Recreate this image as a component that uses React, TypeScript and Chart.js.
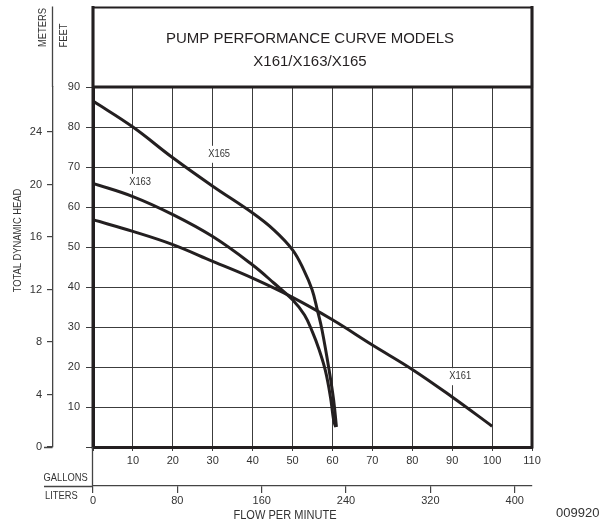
import React, { useEffect, useRef } from "react";
import { Chart, registerables } from "chart.js";

Chart.register(...registerables);

// ---- data (gallons per minute vs total dynamic head in feet) ----
const X165_GAL = [0, 10, 20, 30, 40, 45.3, 50, 52.8, 54.9, 56.2, 57.4, 59.3, 60.3, 61];
const X165_FT = [86.5, 80, 72.3, 65.2, 58.5, 54.3, 49.3, 44.3, 39.3, 34.3, 29.2, 18.4, 11.7, 5];
const X163_GAL = [0, 10, 20, 30, 40, 45.3, 50, 53, 55, 56.6, 58.2, 59.5, 60.3, 60.8];
const X163_FT = [65.9, 62.6, 58.1, 52.6, 45.5, 41.0, 36.8, 33.0, 28.7, 24.5, 19.2, 12.5, 6.7, 5];
const X161_GAL = [0, 10, 20, 30, 40, 50, 60, 70, 80, 90, 100];
const X161_FT = [56.8, 53.9, 50.6, 46.4, 42.2, 37.4, 31.8, 25.5, 19.4, 12.5, 5.2];

const SERIES_NAMES = ["X165", "X163", "X161"];
const LABEL_GAL = [31.6, 11.8, 92];
const LABEL_FT = [73.3, 66.3, 17.7];

const GALLON_MAX = 110;
const FEET_MAX = 90;
const GALLON_STEP = 10;
const FEET_STEP = 10;
const METER_STEP = 4;
const LITER_STEP = 80;
const LITERS_PER_GALLON = 3.785411784;
const METERS_PER_FOOT = 0.3048;

const TITLE_LINES = ["PUMP PERFORMANCE CURVE MODELS", "X161/X163/X165"];
const Y_TITLE = "TOTAL DYNAMIC HEAD";
const X_TITLE = "FLOW PER MINUTE";
const UNIT_METERS = "METERS";
const UNIT_FEET = "FEET";
const UNIT_GALLONS = "GALLONS";
const UNIT_LITERS = "LITERS";
const DOC_ID = "009920";

const INK = "#231f20";
const TICK_INK = "#333333";
const GRID = "#3c3c3c";
const SANS = '"Liberation Sans", Arial, Helvetica, sans-serif';
const NARROW_X = 0.85;

const toPoints = (xs: number[], ys: number[]) => xs.map((x, i) => ({ x, y: ys[i] }));

function narrowText(
  ctx: CanvasRenderingContext2D,
  text: string,
  x: number,
  y: number,
  align: CanvasTextAlign,
  rotate = false
) {
  ctx.save();
  ctx.translate(x, y);
  if (rotate) ctx.rotate(-Math.PI / 2);
  ctx.scale(NARROW_X, 1);
  ctx.textAlign = align;
  ctx.textBaseline = "middle";
  ctx.fillText(text, 0, 0);
  ctx.restore();
}

const decorPlugin = {
  id: "decor",
  beforeDraw(chart: any) {
    const { ctx, width, height } = chart;
    ctx.save();
    ctx.fillStyle = "#ffffff";
    ctx.fillRect(0, 0, width, height);
    ctx.restore();
  },
  beforeDatasetsDraw(chart: any) {
    const { ctx } = chart;
    const sx = chart.scales.x;
    const sy = chart.scales.y;
    ctx.save();
    ctx.font = `11px ${SANS}`;
    SERIES_NAMES.forEach((name, i) => {
      const px = sx.getPixelForValue(LABEL_GAL[i]);
      const py = sy.getPixelForValue(LABEL_FT[i]);
      const w = ctx.measureText(name).width * NARROW_X + 4;
      ctx.fillStyle = "#ffffff";
      ctx.fillRect(px - w / 2, py - 8, w, 17);
      ctx.fillStyle = TICK_INK;
      narrowText(ctx, name, px, py, "center");
    });
    ctx.restore();
  },
  afterDraw(chart: any) {
    const { ctx, chartArea } = chart;
    const { left, right, top, bottom } = chartArea;
    const meters = chart.scales.yM;
    const liters = chart.scales.xL;
    const boxTop = 7.5;
    ctx.save();
    ctx.strokeStyle = INK;
    ctx.lineCap = "square";
    // title box
    ctx.lineWidth = 2.2;
    ctx.beginPath();
    ctx.moveTo(left, top);
    ctx.lineTo(left, boxTop);
    ctx.lineTo(right, boxTop);
    ctx.lineTo(right, top);
    ctx.stroke();
    // plot frame: top (90 ft), right side, left side
    ctx.lineWidth = 3;
    ctx.beginPath();
    ctx.moveTo(left, top);
    ctx.lineTo(right, top);
    ctx.moveTo(right, boxTop);
    ctx.lineTo(right, bottom);
    ctx.moveTo(left, boxTop);
    ctx.lineTo(left, bottom);
    ctx.stroke();
    // thin axis extensions
    ctx.strokeStyle = "#444444";
    ctx.lineWidth = 1.3;
    ctx.lineCap = "butt";
    ctx.beginPath();
    const mx = Math.round(meters.right) - 0.5;
    ctx.moveTo(mx, boxTop - 1);
    ctx.lineTo(mx, top);
    ctx.moveTo(44, Math.round(liters.top) + 0.5);
    ctx.lineTo(left, Math.round(liters.top) + 0.5);
    ctx.moveTo(44, bottom + 0.5);
    ctx.lineTo(mx, bottom + 0.5);
    ctx.moveTo(left - 0.5, bottom);
    ctx.lineTo(left - 0.5, liters.top);
    ctx.stroke();

    // title
    ctx.fillStyle = INK;
    ctx.font = `15px ${SANS}`;
    ctx.textAlign = "center";
    ctx.textBaseline = "middle";
    const cx = (left + right) / 2 - 2.5;
    ctx.fillText(TITLE_LINES[0], cx, 39);
    ctx.fillText(TITLE_LINES[1], cx, 61.5);

    // unit and axis labels
    ctx.fillStyle = TICK_INK;
    ctx.font = `11px ${SANS}`;
    narrowText(ctx, UNIT_GALLONS, 43.5, 478, "left");
    narrowText(ctx, UNIT_LITERS, 45, 496, "left");
    narrowText(ctx, UNIT_METERS, 43, 47, "left", true);
    narrowText(ctx, UNIT_FEET, 63.5, 47.5, "left", true);
    narrowText(ctx, Y_TITLE, 18, 240.5, "center", true);

    ctx.font = `13px ${SANS}`;
    narrowText(ctx, X_TITLE, 285, 515, "center");

    ctx.textAlign = "left";
    ctx.textBaseline = "middle";
    ctx.fillText(DOC_ID, 556, 513);
    ctx.restore();
  },
};

export default function App() {
  const ref = useRef<HTMLCanvasElement | null>(null);

  useEffect(() => {
    if (!ref.current) return;
    const lineStyle = {
      borderColor: INK,
      borderWidth: 3,
      pointRadius: 0,
      fill: false,
      tension: 0.4,
      borderCapStyle: "butt" as const,
      xAxisID: "x",
      yAxisID: "y",
    };
    const tickFont = { family: SANS, size: 11 };
    const chart = new Chart(ref.current, {
      type: "line",
      data: {
        datasets: [
          { label: SERIES_NAMES[0], data: toPoints(X165_GAL, X165_FT), ...lineStyle },
          { label: SERIES_NAMES[1], data: toPoints(X163_GAL, X163_FT), ...lineStyle },
          { label: SERIES_NAMES[2], data: toPoints(X161_GAL, X161_FT), ...lineStyle },
        ],
      },
      options: {
        animation: false,
        responsive: false,
        devicePixelRatio: 1,
        layout: { padding: { left: 0, right: 81, top: 87, bottom: 0 } },
        plugins: { legend: { display: false }, title: { display: false }, tooltip: { enabled: false } },
        events: [],
        scales: {
          x: {
            type: "linear",
            position: "bottom",
            weight: 0,
            min: 0,
            max: GALLON_MAX,
            ticks: {
              stepSize: GALLON_STEP,
              autoSkip: false,
              maxRotation: 0,
              padding: 3,
              color: TICK_INK,
              font: tickFont,
              callback: (v: any) => (Number(v) === 0 ? "" : String(v)),
            },
            grid: { color: GRID, lineWidth: 1, tickLength: 4 },
            border: { display: true, color: INK, width: 3 },
            afterFit: (s: any) => {
              s.height = 39;
            },
          },
          xL: {
            type: "linear",
            position: "bottom",
            weight: 1,
            min: 0,
            max: GALLON_MAX * LITERS_PER_GALLON,
            ticks: {
              stepSize: LITER_STEP,
              includeBounds: false,
              autoSkip: false,
              maxRotation: 0,
              padding: 1,
              color: TICK_INK,
              font: tickFont,
            },
            grid: { drawOnChartArea: false, color: "#444444", lineWidth: 1.2, tickLength: 7 },
            border: { display: true, color: "#444444", width: 1.3 },
            afterFit: (s: any) => {
              s.height = 39;
            },
          },
          y: {
            type: "linear",
            position: "left",
            weight: 0,
            min: 0,
            max: FEET_MAX,
            ticks: {
              stepSize: FEET_STEP,
              padding: 6,
              color: TICK_INK,
              font: tickFont,
              callback: (v: any) => (Number(v) === 0 ? "" : String(v)),
            },
            grid: { color: GRID, lineWidth: 1, tickLength: 7 },
            border: { display: true, color: INK, width: 3 },
            afterFit: (s: any) => {
              s.width = 40;
            },
          },
          yM: {
            type: "linear",
            position: "left",
            weight: 1,
            min: 0,
            max: FEET_MAX * METERS_PER_FOOT,
            ticks: {
              stepSize: METER_STEP,
              includeBounds: false,
              padding: 5,
              color: TICK_INK,
              font: tickFont,
            },
            grid: { drawOnChartArea: false, color: "#444444", lineWidth: 1.2, tickLength: 6 },
            border: { display: true, color: "#444444", width: 1.3 },
            afterFit: (s: any) => {
              s.width = 53;
            },
          },
        },
      } as any,
      plugins: [decorPlugin],
    });
    return () => chart.destroy();
  }, []);

  return (
    <div style={{ position: "fixed", left: 0, top: 0, width: 613, height: 525, background: "#fff" }}>
      <canvas ref={ref} width={613} height={525} style={{ display: "block", width: 613, height: 525 }} />
    </div>
  );
}
